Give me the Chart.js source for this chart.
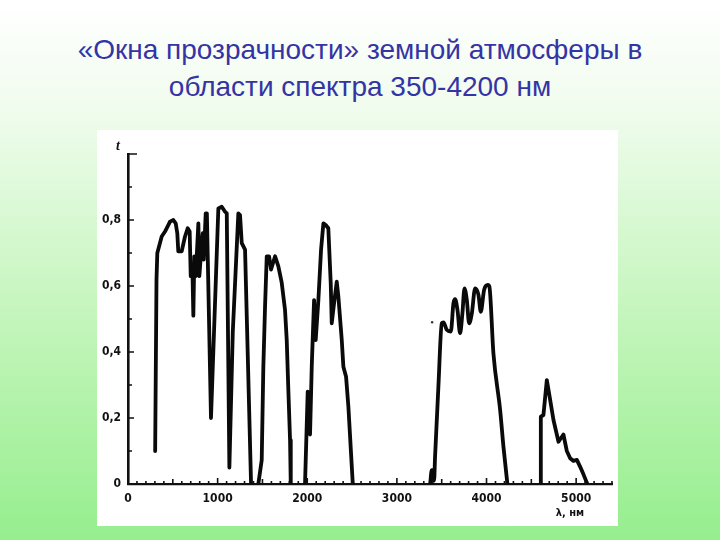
<!DOCTYPE html>
<html>
<head>
<meta charset="utf-8">
<script src="https://cdn.jsdelivr.net/npm/chart.js@4/dist/chart.umd.min.js"></script>
<style>
  html, body { margin: 0; padding: 0; }
  body {
    width: 720px; height: 540px; overflow: hidden; position: relative;
    background: linear-gradient(to bottom, #ffffff 0%, #f2fcf0 18%, #c8f6c0 55%, #96ee8e 100%);
  }
  #title {
    position: absolute; left: 0; top: 31px; width: 720px; text-align: center;
    font-family: "Liberation Sans", Arial, sans-serif; font-size: 28px; line-height: 37px;
    color: #3434a4;
  }
  #paper { position: absolute; left: 97px; top: 130px; width: 521px; height: 396px; background: #ffffff; }
  #c { position: absolute; left: 0; top: 0; }
</style>
</head>
<body>
<div id="title">«Окна прозрачности» земной атмосферы в<br>области спектра 350-4200 нм</div>
<div id="paper"></div>
<canvas id="c" width="720" height="540"></canvas>
<script>
// Wavelength (nm) and transmission values, one pair of arrays per window
const band1Nm = [303, 318, 327, 376, 413, 469, 506, 532, 550, 561, 599, 636, 666, 688, 700, 718, 729, 740, 756, 785, 796, 823, 834, 845, 867, 880, 926, 1008, 1046, 1083, 1102, 1131, 1169, 1231, 1250, 1269, 1306, 1373];
const band1T  = [0.10, 0.62, 0.70, 0.75, 0.765, 0.795, 0.80, 0.79, 0.76, 0.705, 0.705, 0.75, 0.775, 0.765, 0.63, 0.66, 0.51, 0.69, 0.63, 0.79, 0.63, 0.73, 0.76, 0.68, 0.82, 0.82, 0.20, 0.835, 0.84, 0.825, 0.82, 0.05, 0.46, 0.82, 0.815, 0.73, 0.71, 0];

const band2Nm = [1454, 1492, 1510, 1529, 1548, 1574, 1596, 1641, 1677, 1715, 1752, 1771, 1789, 1808, 1816];
const band2T  = [0, 0.073, 0.355, 0.537, 0.69, 0.69, 0.65, 0.69, 0.66, 0.61, 0.527, 0.436, 0.285, 0.133, 0];

const band3Nm = [1975, 2005, 2031, 2050, 2076, 2094, 2124, 2154, 2180, 2206, 2235, 2262, 2273, 2299, 2329, 2347, 2385, 2403, 2433, 2459, 2497, 2508];
const band3T  = [0, 0.28, 0.15, 0.355, 0.557, 0.436, 0.557, 0.71, 0.79, 0.785, 0.775, 0.608, 0.487, 0.548, 0.613, 0.568, 0.436, 0.355, 0.325, 0.234, 0.052, 0];

const band4Nm = [3371, 3389, 3408, 3415, 3426, 3463, 3501, 3520, 3557, 3602, 3631, 3650, 3676, 3705, 3731, 3754, 3780, 3806, 3836, 3873, 3910, 3936, 3973, 4015, 4032, 4077, 4152, 4189, 4233];
const band4T  = [0, 0.042, 0.042, 0.01, 0.083, 0.295, 0.487, 0.49, 0.467, 0.462, 0.548, 0.56, 0.527, 0.457, 0.517, 0.593, 0.558, 0.487, 0.517, 0.593, 0.573, 0.522, 0.588, 0.603, 0.598, 0.396, 0.224, 0.113, 0];

const band5Nm = [4606, 4606, 4635, 4673, 4710, 4747, 4803, 4858, 4896, 4933, 4970, 5008, 5045, 5085, 5125];
const band5T  = [0, 0.204, 0.209, 0.315, 0.255, 0.194, 0.128, 0.15, 0.10, 0.078, 0.07, 0.073, 0.052, 0.027, 0];

const speckNm = [3393];
const speckT  = [0.49];

// Axis settings
const xTicksNm = [0, 1000, 2000, 3000, 4000, 5000];
const yTicks = [0, 0.2, 0.4, 0.6, 0.8];
const xMax = 5400, yMax = 1.0;
const yAxisSymbol = 't';
const xAxisTitle = 'λ, нм';

function pts(xs, ys) { return xs.map((x, i) => ({ x: x, y: ys[i] })); }

const lineStyle = {
  borderColor: '#0a0a0a', borderWidth: 3.8, pointRadius: 0, fill: false,
  borderJoinStyle: 'round', borderCapStyle: 'round', tension: 0
};

const labelFont = { family: '"Liberation Sans Narrow", "DejaVu Sans Condensed", "Arial Narrow", sans-serif', size: 12, weight: 'bold' };

const innerTicks = {
  id: 'innerTicks',
  afterDraw(chart) {
    const ctx = chart.ctx, xs = chart.scales.x, ys = chart.scales.y;
    const y0 = ys.getPixelForValue(0), x0 = xs.getPixelForValue(0);
    ctx.save();
    ctx.strokeStyle = '#111';
    ctx.lineWidth = 1.6;
    ctx.beginPath();
    for (let v = 100; v <= xMax; v += 100) {
      const px = xs.getPixelForValue(v);
      const len = (v % 1000 === 0) ? 6 : (v % 500 === 0 ? 5 : 3);
      ctx.moveTo(px, y0); ctx.lineTo(px, y0 - len);
    }
    for (let k = 1; k <= 10; k++) {
      const v = k / 10;
      const py = ys.getPixelForValue(v);
      const len = k === 10 ? 9 : (k % 2 === 0 ? 6 : 4);
      ctx.moveTo(x0, py); ctx.lineTo(x0 + len, py);
    }
    ctx.stroke();
    ctx.fillStyle = '#111';
    ctx.font = 'italic bold 14px "Liberation Serif", serif';
    ctx.textAlign = 'center'; ctx.textBaseline = 'middle';
    ctx.fillText(yAxisSymbol, x0 - 10, ys.getPixelForValue(yMax) - 8);
    ctx.font = 'bold 11px "Liberation Sans Narrow", "DejaVu Sans Condensed", sans-serif';
    ctx.fillText(xAxisTitle, xs.getPixelForValue(4930), y0 + 29);
    ctx.restore();
  }
};

new Chart(document.getElementById('c'), {
  type: 'line',
  data: {
    datasets: [
      Object.assign({ data: pts(band1Nm, band1T) }, lineStyle),
      Object.assign({ data: pts(band2Nm, band2T) }, lineStyle),
      Object.assign({ data: pts(band3Nm, band3T) }, lineStyle),
      Object.assign({ data: pts(band4Nm, band4T) }, lineStyle, { cubicInterpolationMode: 'monotone' }),
      Object.assign({ data: pts(band5Nm, band5T) }, lineStyle),
      { data: pts(speckNm, speckT), showLine: false, pointRadius: 1.2, pointBackgroundColor: '#333', pointBorderWidth: 0 }
    ]
  },
  options: {
    responsive: false,
    devicePixelRatio: 1,
    animation: false,
    layout: { padding: { left: 88, right: 108, top: 154, bottom: 26 } },
    plugins: { legend: { display: false }, tooltip: { enabled: false }, title: { display: false } },
    scales: {
      x: {
        type: 'linear', min: 0, max: xMax,
        afterFit(s) { s.height = 30; },
        afterBuildTicks(s) { s.ticks = xTicksNm.map(v => ({ value: v })); },
        ticks: { color: '#111', font: labelFont, padding: 8, maxRotation: 0, callback: v => String(v) },
        grid: { drawOnChartArea: false, drawTicks: false },
        border: { display: true, color: '#111', width: 2.2 }
      },
      y: {
        type: 'linear', min: 0, max: yMax,
        afterFit(s) { s.width = 40; },
        afterBuildTicks(s) { s.ticks = yTicks.map(v => ({ value: v })); },
        ticks: { color: '#111', font: labelFont, padding: 7, callback: v => v === 0 ? '0' : Number(v).toFixed(1).replace('.', ',') },
        grid: { drawOnChartArea: false, drawTicks: false },
        border: { display: true, color: '#111', width: 2.6 }
      }
    }
  },
  plugins: [innerTicks]
});
</script>
</body>
</html>
